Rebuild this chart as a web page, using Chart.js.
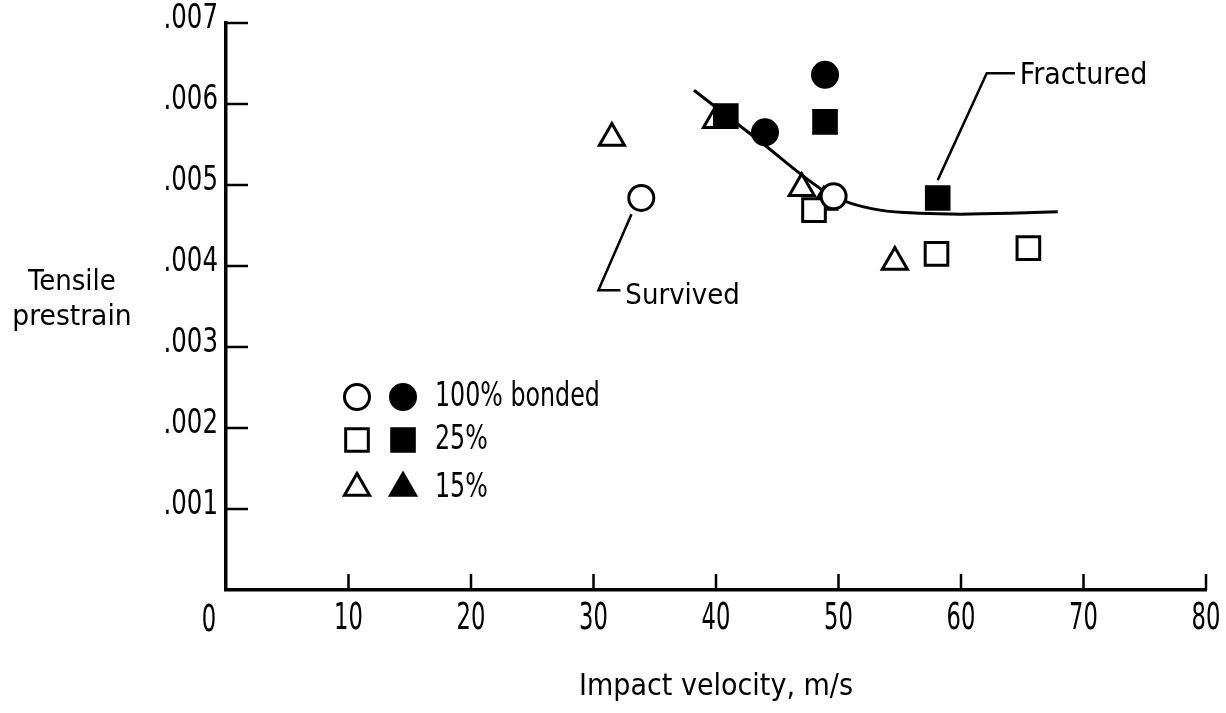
<!DOCTYPE html>
<html>
<head>
<meta charset="utf-8">
<script src="https://cdn.jsdelivr.net/npm/chart.js@4"></script>
<style>
  html, body { margin: 0; padding: 0; background: #fff; }
  #wrap { width: 1226px; height: 713px; }
</style>
</head>
<body>
<div id="wrap"><canvas id="strainChart"></canvas></div>
<script>
// data: [impact velocity m/s, tensile prestrain]
const openCircles = [[33.9, 0.00484], [49.6, 0.00486]];
const filledCircles = [[44.0, 0.00565], [48.9, 0.00636]];
const openSquares = [[48.0, 0.00469], [58.0, 0.00415], [65.5, 0.00422]];
const filledSquares = [[40.8, 0.00585], [48.9, 0.00578], [58.1, 0.00484]];
const openTriangles = [[31.5, 0.00558], [40.0, 0.00580], [47.0, 0.00496], [54.6, 0.00405]];
const filledTriangles = [[48.8, 0.00479]];
const boundaryCurve = [[38.2, 0.00617], [43.5, 0.00555], [49.0, 0.00491], [50.9, 0.00478], [53.4, 0.00469], [56.7, 0.00465], [60.0, 0.00464], [64.0, 0.00465], [67.9, 0.00467]];
const survivedLeader = [[33.1, 0.00464], [30.4, 0.00370], [32.2, 0.00370]];
const fracturedLeader = [[58.1, 0.00506], [62.1, 0.00638], [64.4, 0.00638]];

const xTicks = [0, 10, 20, 30, 40, 50, 60, 70, 80];
const yTickLabels = ['', '.001', '.002', '.003', '.004', '.005', '.006', '.007'];

const FONT = "'DejaVu Sans Condensed', 'DejaVu Sans', sans-serif";
const toXY = arr => arr.map(p => ({ x: p[0], y: p[1] }));

function markerSet(data, style, filled, radius) {
  return {
    type: 'scatter',
    data: toXY(data),
    pointStyle: style,
    pointRadius: radius,
    pointHoverRadius: radius,
    pointBorderWidth: 3,
    pointBorderColor: '#000',
    pointBackgroundColor: filled ? '#000' : '#fff',
    order: 1
  };
}

function leaderSet(data) {
  return {
    type: 'line',
    data: toXY(data),
    borderColor: '#000',
    borderWidth: 2.5,
    pointRadius: 0,
    tension: 0,
    order: 3
  };
}

// narrow text: squeeze horizontally around the anchor
function narrowText(ctx, text, x, y, sx, align) {
  ctx.save();
  ctx.translate(x, y);
  ctx.scale(sx, 1);
  ctx.textAlign = align;
  ctx.fillText(text, 0, 0);
  ctx.restore();
}

// inward tick marks, tick labels, extra labels, legend block
const decorations = {
  id: 'decorations',
  afterDraw(chart) {
    const { ctx, chartArea, scales } = chart;
    const xs = scales.x, ys = scales.y;
    ctx.save();
    ctx.strokeStyle = '#000';
    ctx.fillStyle = '#000';
    ctx.lineWidth = 2.5;
    ctx.textBaseline = 'middle';

    ctx.font = '37px ' + FONT;
    xTicks.forEach(v => {
      const px = xs.getPixelForValue(v);
      if (v !== 0) {
        ctx.beginPath();
        ctx.moveTo(px, chartArea.bottom);
        ctx.lineTo(px, chartArea.bottom - 16);
        ctx.stroke();
        narrowText(ctx, String(v), px, 619, 0.68, 'center');
      } else {
        narrowText(ctx, '0', px - 17, 621, 0.68, 'center');
      }
    });

    ctx.font = '34px ' + FONT;
    yTickLabels.forEach((lbl, i) => {
      if (!lbl) return;
      const py = ys.getPixelForValue(i * 0.001);
      ctx.beginPath();
      ctx.moveTo(chartArea.left, py);
      ctx.lineTo(chartArea.left + 22, py);
      ctx.stroke();
      narrowText(ctx, lbl, chartArea.left - 8, py - 4, 0.8, 'right');
    });

    // y axis title
    ctx.font = '29px ' + FONT;
    narrowText(ctx, 'Tensile', 72, 282, 1, 'center');
    narrowText(ctx, 'prestrain', 72, 317, 1.02, 'center');

    // annotation texts
    narrowText(ctx, 'Survived', xs.getPixelForValue(32.6), ys.getPixelForValue(0.00362), 1, 'left');
    ctx.font = '30px ' + FONT;
    narrowText(ctx, 'Fractured', xs.getPixelForValue(64.8), ys.getPixelForValue(0.00634), 1, 'left');

    // legend
    const rows = [
      { y: 397, style: 'circle', r: 12.5, text: '100% bonded' },
      { y: 440, style: 'rect', r: 16, text: '25%' },
      { y: 488, style: 'triangle', r: 14.5, text: '15%' }
    ];
    ctx.font = '33px ' + FONT;
    rows.forEach(row => {
      ctx.lineWidth = 3;
      ctx.strokeStyle = '#000';
      ctx.fillStyle = '#fff';
      Chart.helpers.drawPoint(ctx, { pointStyle: row.style, radius: row.r, borderWidth: 3 }, 357, row.y);
      ctx.fillStyle = '#000';
      Chart.helpers.drawPoint(ctx, { pointStyle: row.style, radius: row.r, borderWidth: 3 }, 403, row.y);
      narrowText(ctx, row.text, 435, row.y, 0.8, 'left');
    });
    ctx.restore();
  }
};

const ctx = document.getElementById('strainChart').getContext('2d');

new Chart(ctx, {
  data: {
    datasets: [
      markerSet(openCircles, 'circle', false, 12.5),
      markerSet(filledCircles, 'circle', true, 12.5),
      markerSet(openSquares, 'rect', false, 16),
      markerSet(filledSquares, 'rect', true, 16),
      markerSet(openTriangles, 'triangle', false, 14.5),
      markerSet(filledTriangles, 'triangle', true, 14.5),
      {
        type: 'line',
        data: toXY(boundaryCurve),
        borderColor: '#000',
        borderWidth: 3,
        pointRadius: 0,
        cubicInterpolationMode: 'monotone',
        order: 2
      },
      leaderSet(survivedLeader),
      leaderSet(fracturedLeader)
    ]
  },
  options: {
    responsive: true,
    maintainAspectRatio: false,
    animation: false,
    layout: { padding: { top: 23, right: 20, left: 0, bottom: 0 } },
    plugins: {
      legend: { display: false },
      tooltip: { enabled: false }
    },
    scales: {
      x: {
        type: 'linear',
        min: 0,
        max: 80,
        afterFit: s => { s.height = 123; },
        afterBuildTicks: s => { s.ticks = xTicks.map(v => ({ value: v })); },
        grid: { display: false, drawTicks: false },
        border: { display: true, color: '#000', width: 3.5 },
        ticks: { display: false },
        title: {
          display: true,
          text: 'Impact velocity, m/s',
          color: '#000',
          font: { family: FONT, size: 30 },
          padding: { top: 0, bottom: 8 }
        }
      },
      y: {
        type: 'linear',
        min: 0,
        max: 0.007,
        afterFit: s => { s.width = 226; },
        afterBuildTicks: s => { s.ticks = yTickLabels.map((l, i) => ({ value: i * 0.001 })); },
        grid: { display: false, drawTicks: false },
        border: { display: true, color: '#000', width: 3.5 },
        ticks: { display: false }
      }
    }
  },
  plugins: [decorations]
});
</script>
</body>
</html>
